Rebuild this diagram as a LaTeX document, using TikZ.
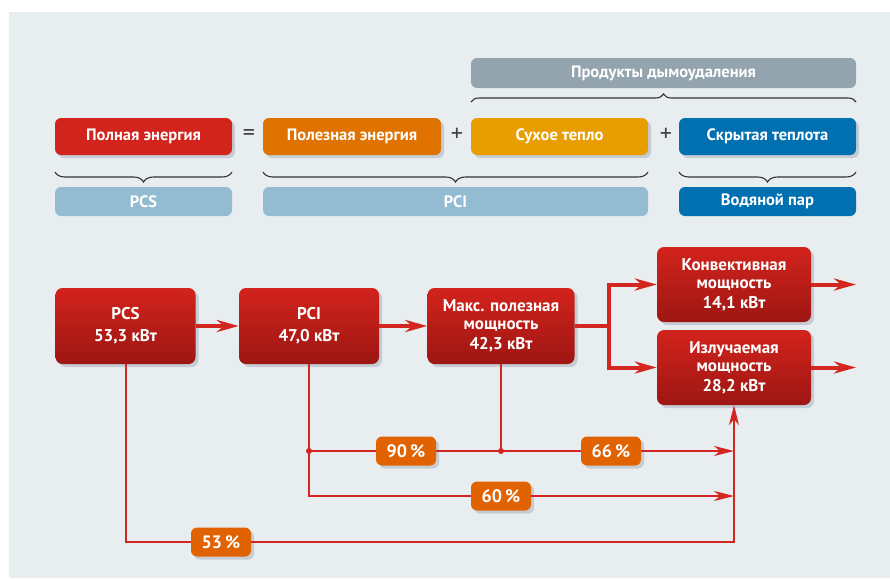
\documentclass[tikz,border=0pt]{standalone}
\usepackage{fontspec}
\setmainfont{PT Sans}
\usepackage{tikz}
\usetikzlibrary{arrows.meta,positioning,shadows,decorations.pathreplacing}

\definecolor{bg}{RGB}{232,237,240}
\definecolor{fullred}{RGB}{210,35,28}
\definecolor{darkred}{RGB}{158,22,19}
\definecolor{usefulor}{RGB}{224,114,0}
\definecolor{dryamb}{RGB}{232,157,0}
\definecolor{latblue}{RGB}{0,112,176}
\definecolor{lightblue}{RGB}{147,188,210}
\definecolor{prodgray}{RGB}{148,164,174}
\definecolor{pctor}{RGB}{224,98,0}
\definecolor{linered}{RGB}{212,38,32}
\definecolor{shade}{RGB}{196,205,212}

\tikzset{
  tag/.style={rounded corners=6pt, text=white, inner sep=0pt, align=center,
    font=\bfseries\fontsize{16.5}{19}\selectfont, minimum height=37pt},
  shadowed/.style={drop shadow={shadow xshift=3pt, shadow yshift=-3pt, fill=shade, opacity=1}},
  power/.style={tag, shadowed, rounded corners=7pt, top color=fullred, bottom color=darkred,
    font=\bfseries\fontsize{17}{22}\selectfont, minimum height=76pt},
  pct/.style={tag, shadowed, fill=pctor, font=\bfseries\fontsize{18}{20}\selectfont,
    minimum width=60pt, minimum height=29pt},
  thick flow/.style={linered, line width=4pt, -{Stealth[length=22pt,width=12pt,inset=7pt]}},
  thin flow/.style={linered, line width=2pt},
  thin arrow/.style={thin flow, -{Stealth[length=20pt,width=10pt,inset=6pt]}},
  bracket/.style={decorate, decoration={brace, amplitude=#1}, line width=1.1pt, black!80},
  sign/.style={font=\fontsize{24}{24}\selectfont, text=black!75},
}

\begin{document}
\begin{tikzpicture}[x=1pt,y=-1pt]
\useasboundingbox (0,0) rectangle (890,578);
\fill[bg] (9,12) rectangle (890,578);

% energy balance
\node[tag, fill=prodgray, minimum width=385pt, minimum height=30pt] (products) at (663.5,73) {Продукты дымоудаления};
\draw[bracket=8pt] (471,102) -- (856,102);

\node[tag, shadowed, fill=fullred, minimum width=177pt] (full) at (143.5,136.5) {Полная энергия};
\node[sign] (eq) at (249,135) {=};
\node[tag, shadowed, fill=usefulor, minimum width=178pt] (useful) at (352,136.5) {Полезная энергия};
\node[sign] (plus1) at (457,135) {+};
\node[tag, shadowed, fill=dryamb, minimum width=177pt] (dry) at (559.5,136.5) {Сухое тепло};
\node[sign] (plus2) at (666,135) {+};
\node[tag, shadowed, fill=latblue, minimum width=177pt] (latent) at (767.5,136.5) {Скрытая теплота};

\draw[bracket=10pt] (232,172) -- (55,172);
\draw[bracket=10pt] (648,172) -- (263,172);
\draw[bracket=10pt] (856,172) -- (679,172);

\node[tag, fill=lightblue, minimum width=177pt, minimum height=29pt] (pcs tag) at (143.5,201.5) {PCS};
\node[tag, fill=lightblue, minimum width=385pt, minimum height=29pt] (pci tag) at (455.5,201.5) {PCI};
\node[tag, fill=latblue, minimum width=177pt, minimum height=29pt] (steam) at (767.5,201.5) {Водяной пар};

% power flow
\node[power, minimum width=140pt] (pcs) at (125.5,326) {PCS\\53,3 кВт};
\node[power, minimum width=140pt] (pci) at (309,326) {PCI\\47,0 кВт};
\node[power, minimum width=147pt] (max) at (501,326) {Макс. полезная\\[-4pt]мощность\\[-2pt]42,3 кВт};
\node[power, minimum width=154pt, minimum height=75pt] (conv) at (734,284.5) {Конвективная\\[-4pt]мощность\\[-2pt]14,1 кВт};
\node[power, minimum width=154pt, minimum height=75pt] (rad) at (734,367.5) {Излучаемая\\[-4pt]мощность\\[-2pt]28,2 кВт};

\coordinate (split) at (609,326);
\coordinate (conv out) at (856,284.5);
\coordinate (rad out) at (856,367.5);

\draw[thick flow] (pcs) -- (pci);
\draw[thick flow] (pci) -- (max);
\draw[thick flow] (max.east) -- (split) |- (conv.west);
\draw[thick flow] (split) |- (rad.west);
\draw[thick flow] (conv) -- (conv out);
\draw[thick flow] (rad) -- (rad out);

\node[pct] (p53) at (221,542) {53\,\%};
\node[pct] (p90) at (406,451) {90\,\%};
\node[pct] (p66) at (611,451) {66\,\%};
\node[pct] (p60) at (501,496) {60\,\%};

\coordinate (j1) at (pci.south |- p90.west);
\coordinate (j2) at (max.south |- p90.west);

\draw[thin flow] (pcs.south) |- (p53.west);
\draw[thin arrow] (p53.east) -| (rad.south);
\draw[thin flow] (pci.south) |- (p60.west);
\draw[thin arrow] (p60.east) -- (p60.east -| rad.south);
\draw[thin flow] (j1) -- (p90.west);
\draw[thin flow] (p90.east) -- (p66.west);
\draw[thin flow] (max.south) -- (j2);
\draw[thin arrow] (p66.east) -- (p66.east -| rad.south);
\fill[linered] (j1) circle (3pt) (j2) circle (3pt);
\end{tikzpicture}
\end{document}
